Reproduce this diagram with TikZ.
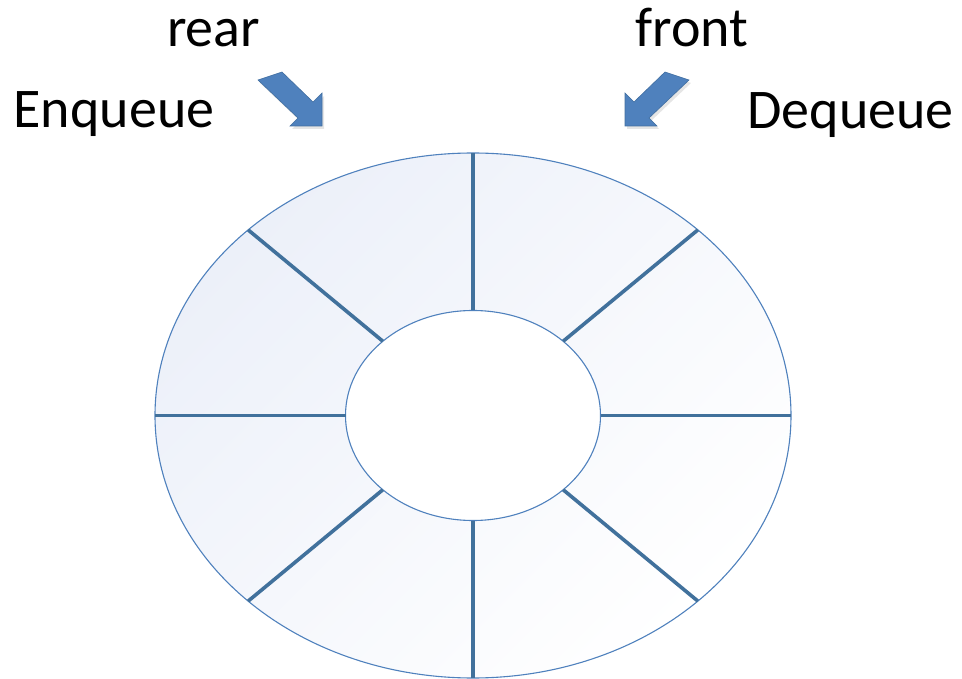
\documentclass[tikz,border=0pt]{standalone}
\usepackage{fontspec}
\setmainfont{Carlito}
\usetikzlibrary{calc}
\definecolor{rim}{RGB}{79,129,189}
\definecolor{spokeblue}{RGB}{65,113,156}
\definecolor{arrowblue}{RGB}{79,129,189}
\definecolor{arrowedge}{RGB}{65,110,160}
\definecolor{ringtint}{RGB}{236,240,249}
\tikzset{
  rimline/.style={draw=rim, line width=1.1pt},
  spokeline/.style={draw=spokeblue, line width=3.6pt},
  blockarrow/.style={fill=arrowblue, draw=arrowedge, line width=0.6pt, line join=miter},
  arrowshadow/.style={fill=black, opacity=0.1},
  label/.style={font=\fontsize{56}{60}\selectfont, anchor=base, inner sep=0pt}
}
\begin{document}
\begin{tikzpicture}[x=1pt, y=-1pt]
  \useasboundingbox (0,0) rectangle (962,679);

  % circular buffer: outer ring with light tint, empty hub
  \coordinate (c) at (473,415.5);
  \shade[shading=axis, top color=ringtint, bottom color=white, shading angle=45]
    (c) ellipse [x radius=318, y radius=262.5];
  \path[rimline] (c) ellipse [x radius=318, y radius=262.5];
  \path[rimline, fill=white] (c) ellipse [x radius=127.5, y radius=105];

  % eight slot dividers
  \foreach \a in {0,45,...,315} {
    \coordinate (in\a) at ($(c)+(\a:127.5 and 105)$);
    \coordinate (out\a) at ($(c)+(\a:318 and 262.5)$);
    \draw[spokeline] (in\a) -- (out\a);
  }

  % rear pointer arrow (down-right)
  \fill[arrowshadow] (260,83) -- (284,75) -- (315,105) -- (324,96) -- (324,129) -- (292,129) -- (300,121) -- cycle;
  \path[blockarrow] (258,80) -- (282,72) -- (313,102) -- (322,93) -- (322,126) -- (290,126) -- (298,118) -- cycle;

  % front pointer arrow (down-left)
  \fill[arrowshadow] (691,83) -- (667,75) -- (636,105) -- (627,96) -- (627,129) -- (659,129) -- (651,121) -- cycle;
  \path[blockarrow] (689,80) -- (665,72) -- (634,102) -- (625,93) -- (625,126) -- (657,126) -- (649,118) -- cycle;

  % labels
  \node[label] (rear) at (213.5,47) {rear};
  \node[label] (front) at (692,47) {front};
  \node[label] (enq) at (114,128) {Enqueue};
  \node[label] (deq) at (850.5,129) {Dequeue};
\end{tikzpicture}
\end{document}
